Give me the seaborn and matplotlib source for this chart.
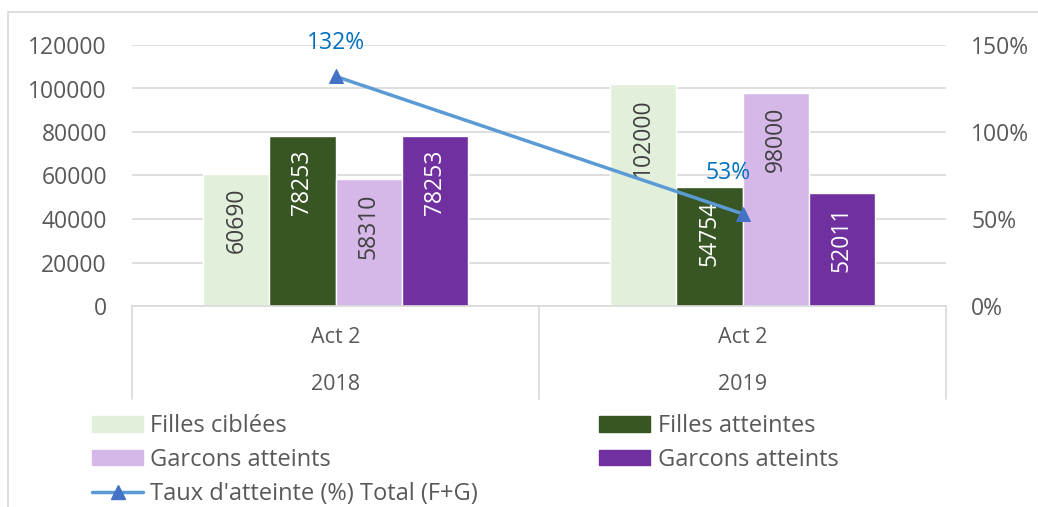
import pandas as pd
import numpy as np
import matplotlib
import matplotlib.pyplot as plt
from matplotlib.patches import Patch, Rectangle
from matplotlib.lines import Line2D
import seaborn as sns

sns.set_style('white')
plt.rcParams['font.family'] = ['Open Sans', 'DejaVu Sans']

# data
years = ['2018', '2019']
acts = ['Act 2', 'Act 2']
series_keys = ['fc', 'fa', 'gc', 'ga']
series_labels = ['Filles ciblées', 'Filles atteintes', 'Garcons atteints', 'Garcons atteints']
filles_ciblees = [60690, 102000]
filles_atteintes = [78253, 54754]
garcons_cibles = [58310, 98000]
garcons_atteints = [78253, 52011]
taux = [1.32, 0.53]
taux_labels = ['132%', '53%']
line_label = "Taux d'atteinte (%) Total (F+G)"

colors = ['#E2EFDA', '#375623', '#D5B8E8', '#7030A0']
text_colors = ['#404040', 'white', '#404040', 'white']
grey = '#595959'
grid = '#D9D9D9'

df = pd.DataFrame({
    'year': years * 4,
    'serie': np.repeat(series_keys, len(years)),
    'value': filles_ciblees + filles_atteintes + garcons_cibles + garcons_atteints,
})

W, H = 1038, 507
fig = plt.figure(figsize=(W / 100, H / 100), dpi=100)
ax = fig.add_axes([132 / W, (H - 306) / H, (946 - 132) / W, (306 - 45) / H])

sns.barplot(data=df, x='year', y='value', hue='serie', hue_order=series_keys,
            palette=colors, width=0.65, saturation=1, ax=ax, legend=False)

ax.set_xlim(-0.5, 1.5)
ax.set_ylim(0, 120000)
ax.set_yticks(range(0, 120001, 20000))
ax.yaxis.grid(True, color=grid, lw=1.2)
ax.set_axisbelow(True)
for s in ['left', 'right', 'top']:
    ax.spines[s].set_visible(False)
ax.spines['bottom'].set_color(grid)
ax.spines['bottom'].set_linewidth(1.2)
ax.tick_params(axis='y', length=0, pad=18, labelsize=16.5, labelcolor=grey)
ax.tick_params(axis='x', length=0, pad=15, labelsize=15.5, labelcolor=grey)
ax.set_xticks(range(len(years)), labels=acts)
ax.set_xlabel('')
ax.set_ylabel('')

# year row of the x axis
for i, y in enumerate(years):
    ax.annotate(y, xy=(i, 0), xycoords=('data', 'axes fraction'),
                xytext=(0, -78), textcoords='offset pixels',
                ha='center', va='center', fontsize=15.5, color=grey)
for xs in [-0.5, 0.5, 1.5]:
    ax.axvline(xs, ymin=-93 / 261, ymax=0, color=grid, lw=1.2, clip_on=False)

# bar labels inside end
for container, tc in zip(ax.containers, text_colors):
    for rect in container:
        h = rect.get_height()
        ax.annotate(f'{int(h)}', xy=(rect.get_x() + rect.get_width() / 2, h),
                    xytext=(0, -14), textcoords='offset pixels',
                    ha='center', va='top', rotation=90, fontsize=16.5, color=tc)

# rate line on secondary axis
ax2 = ax.twinx()
ax2.set_ylim(0, 1.5)
sns.lineplot(x=range(len(years)), y=taux, ax=ax2, color='#5B9BD5', lw=2.5,
             marker='^', markersize=10, markerfacecolor='#4472C4',
             markeredgecolor='#4472C4')
ax2.set_yticks([0, 0.5, 1.0, 1.5], labels=['0%', '50%', '100%', '150%'])
ax2.tick_params(axis='y', length=0, pad=18, labelsize=16.5, labelcolor=grey)
for s in ax2.spines.values():
    s.set_visible(False)
offsets = [(0, 33), (-14, 41)]
for i, (v, lab) in enumerate(zip(taux, taux_labels)):
    ax2.annotate(lab, xy=(i, v), xytext=offsets[i], textcoords='offset pixels',
                 ha='center', va='center', fontsize=16.5, color='#0070C0')

# legend
handles = [Patch(color=colors[0]), Patch(color=colors[2]),
           Line2D([], [], color='#5B9BD5', lw=2.5, marker='^', markersize=10,
                  markerfacecolor='#4472C4', markeredgecolor='#4472C4'),
           Patch(color=colors[1]), Patch(color=colors[3])]
labels = [series_labels[0], series_labels[2], line_label, series_labels[1], series_labels[3]]
leg = fig.legend(handles, labels, ncol=2, loc='upper left',
                 bbox_to_anchor=(92 / W, (H - 414) / H), frameon=False,
                 fontsize=17, handlelength=2.16, handleheight=0.64,
                 handletextpad=0.3, columnspacing=5.15, labelspacing=0.42,
                 borderaxespad=0, borderpad=0)
for t in leg.get_texts():
    t.set_color(grey)

# chart area border
fig.add_artist(Rectangle((8 / W, -0.1), 1.2, (H - 12) / H + 0.1,
                         transform=fig.transFigure, fill=False,
                         edgecolor=grid, lw=1.2))

fig.savefig('out.png', dpi=100)
